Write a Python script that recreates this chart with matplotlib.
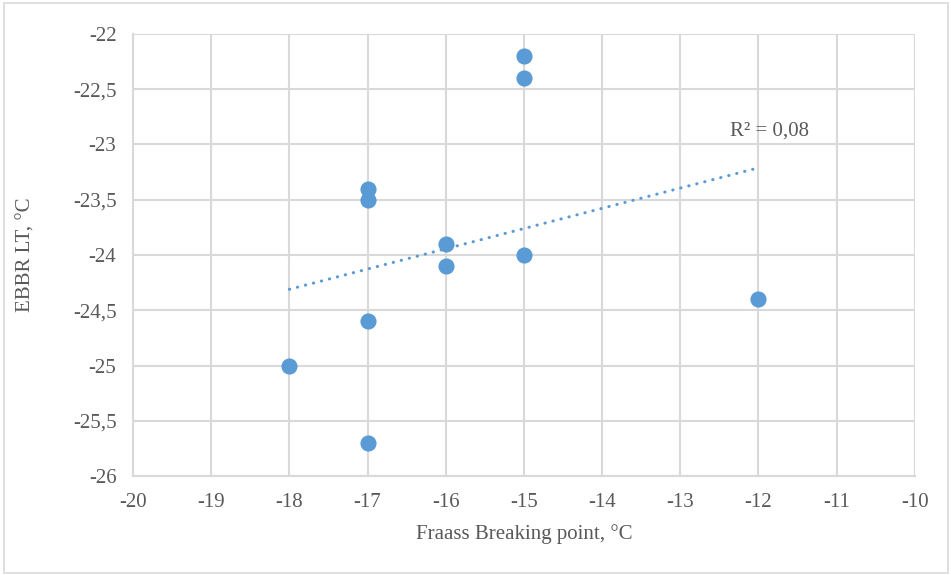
import numpy as np
import matplotlib.pyplot as plt
from matplotlib.patches import Rectangle

# data
fraass = [-18, -17, -17, -17, -17, -16, -16, -15, -15, -15, -12]
ebbr_lt = [-25, -23.4, -23.5, -24.6, -25.7, -23.9, -24.1, -22.2, -22.4, -24, -24.4]
x_ticks = [-20, -19, -18, -17, -16, -15, -14, -13, -12, -11, -10]
y_ticks = [-26, -25.5, -25, -24.5, -24, -23.5, -23, -22.5, -22]

blue = '#5B9BD5'
grey = '#D9D9D9'
txt = '#595959'

plt.rcParams['font.family'] = ['Liberation Serif', 'DejaVu Serif']

fig = plt.figure(figsize=(9.51, 5.75), dpi=100)
ax = fig.add_axes([0.1399, 0.172, 0.822, 0.769])

fig.patches.append(Rectangle((0.004, 0.004), 0.993, 0.991, transform=fig.transFigure,
                             fill=False, edgecolor=grey, linewidth=1.2))

ax.scatter(fraass, ebbr_lt, s=135, color=blue, zorder=3, linewidths=0)

# linear trendline
k, b = np.polyfit(fraass, ebbr_lt, 1)
xs = np.array([min(fraass), max(fraass)])
ax.plot(xs, k * xs + b, color=blue, linewidth=2.2, linestyle=(0, (0.1, 2.6)),
        dash_capstyle='round', zorder=2)
r2 = np.corrcoef(fraass, ebbr_lt)[0, 1] ** 2
ax.text(-11.35, -22.88, ('R² = %.2f' % r2).replace('.', ','), ha='right', va='center',
        fontsize=15, color=txt)

ax.set_xlim(-20, -10)
ax.set_ylim(-26, -22)
ax.set_xticks(x_ticks)
ax.set_yticks(y_ticks)
ax.set_xticklabels([str(v) for v in x_ticks])
ax.set_yticklabels([('%g' % v).replace('.', ',') for v in y_ticks])
ax.tick_params(length=0, labelsize=15, labelcolor=txt, pad=12)
ax.grid(True, color=grey, linewidth=1.5)
ax.set_axisbelow(True)
for s in ['top', 'right']:
    ax.spines[s].set_visible(False)
for s in ['left', 'bottom']:
    ax.spines[s].set_color(grey)
    ax.spines[s].set_linewidth(1.5)

ax.set_xlabel('Fraass Breaking point, °C', fontsize=15, color=txt, labelpad=9)
ax.set_ylabel('EBBR LT, °C', fontsize=15, color=txt, labelpad=27)

fig.savefig('out.png', dpi=100)
